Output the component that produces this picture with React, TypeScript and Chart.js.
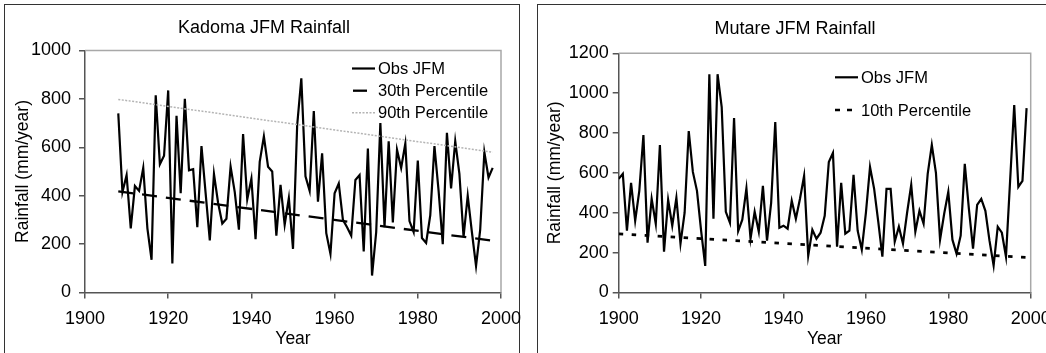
import React, { useEffect, useRef } from "react";
import { Chart, registerables } from "chart.js";

Chart.register(...registerables);

const FONT = '"Liberation Sans", Arial, Helvetica, sans-serif';

// ---------- Kadoma ----------
const kadomaFirstYear = 1908;
const kadomaObs = [
  740, 415, 485, 265, 440, 420, 515, 265, 135, 815,
  530, 565, 835, 120, 730, 410, 800, 505, 510, 270,
  605, 410, 215, 490, 370, 285, 305, 520, 415, 260,
  655, 385, 470, 220, 540, 645, 520, 500, 235, 445,
  280, 390, 180, 690, 885, 480, 420, 750, 375, 575,
  245, 160, 410, 450, 300, 270, 235, 465, 485, 170,
  595, 70, 250, 700, 270, 625, 290, 590, 515, 615,
  295, 250, 545, 225, 205, 320, 605, 420, 200, 660,
  430, 625, 490, 230, 400, 250, 110, 260, 580, 475,
  515,
];
const kadomaTrendYears = [1908, 1998];
const kadoma30th = [418, 214];
const kadoma90th = [798, 580];

// ---------- Mutare ----------
const mutareFirstYear = 1900;
const mutareObs = [
  570, 595, 310, 550, 360, 510, 790, 250, 470, 345,
  740, 205, 465, 335, 475, 245, 400, 810, 605, 510,
  310, 133, 1095, 370, 1095, 930, 405, 350, 875, 308,
  365, 522, 270, 405, 305, 535, 260, 450, 855, 325,
  335, 320, 460, 370, 470, 585, 185, 315, 270, 300,
  385, 655, 700, 230, 550, 295, 310, 590, 310, 215,
  400, 630, 520, 355, 180, 520, 520, 255, 330, 245,
  400, 540, 305, 410, 345, 595, 740, 600, 265, 395,
  505, 265, 195, 285, 645, 420, 220, 440, 470, 410,
  260, 135, 330, 300, 180, 560, 940, 530, 560, 925,
];
const mutareTrendYears = [1900, 1999];
const mutare10th = [294, 176];

const xTicks = [1900, 1920, 1940, 1960, 1980, 2000];

function toPoints(firstYear: number, vals: number[]) {
  return vals.map((v, i) => ({ x: firstYear + i, y: v }));
}
function pairPoints(years: number[], vals: number[]) {
  return vals.map((v, i) => ({ x: years[i], y: v }));
}

const insideLegend = {
  id: "insideLegend",
  afterDraw(chart: any, _args: any, opts: any) {
    const ctx = chart.ctx;
    const ca = chart.chartArea;
    ctx.save();
    // light frame on top/right of plot area
    ctx.strokeStyle = "#a8a8a8";
    ctx.lineWidth = 1.5;
    ctx.setLineDash([]);
    ctx.beginPath();
    ctx.moveTo(ca.left, ca.top);
    ctx.lineTo(ca.right, ca.top);
    ctx.lineTo(ca.right, ca.bottom);
    ctx.stroke();
    // chart title
    if (opts && opts.title) {
      ctx.fillStyle = "#000";
      ctx.font = `18px ${FONT}`;
      ctx.textAlign = "center";
      ctx.textBaseline = "middle";
      ctx.fillText(opts.title.text, opts.title.x, opts.title.y);
    }
    const items = (opts && opts.items) || [];
    for (const it of items) {
      ctx.strokeStyle = it.color;
      ctx.lineWidth = it.width;
      ctx.setLineDash(it.dash || []);
      ctx.beginPath();
      ctx.moveTo(it.x0, it.y);
      ctx.lineTo(it.x1, it.y);
      ctx.stroke();
      ctx.setLineDash([]);
      ctx.fillStyle = "#000";
      ctx.font = `16.5px ${FONT}`;
      ctx.textBaseline = "middle";
      ctx.textAlign = "left";
      ctx.fillText(it.label, it.tx, it.y + 1);
    }
    ctx.restore();
  },
};

type PanelCfg = {
  title: { text: string; x: number; y: number };
  width: number;
  yMax: number;
  yAxisWidth: number;
  padRight: number;
  padTop: number;
  yTitlePad: number;
  yTickPad: number;
  datasets: any[];
  legend: any[];
};

const CANVAS_H = 353;
const X_AXIS_H = 60.5;

function buildConfig(p: PanelCfg): any {
  return {
    type: "line",
    data: { datasets: p.datasets },
    plugins: [insideLegend],
    options: {
      responsive: false,
      animation: false,
      devicePixelRatio: 1,
      layout: { padding: { left: 0, right: p.padRight, top: p.padTop, bottom: 0 } },
      elements: { point: { radius: 0 }, line: { tension: 0 } },
      plugins: {
        legend: { display: false },
        tooltip: { enabled: false },
        title: { display: false },
        insideLegend: { items: p.legend, title: p.title },
      },
      scales: {
        x: {
          type: "linear",
          min: 1900,
          max: 2000,
          afterBuildTicks: (s: any) => {
            s.ticks = xTicks.map((v) => ({ value: v }));
          },
          afterFit: (s: any) => {
            s.height = X_AXIS_H;
            s.paddingLeft = 0;
            s.paddingRight = 0;
          },
          grid: {
            display: true,
            drawOnChartArea: false,
            drawTicks: true,
            tickLength: 6,
            color: "#555",
            lineWidth: 1.5,
          },
          border: { display: true, color: "#555", width: 1.5 },
          ticks: {
            color: "#000",
            font: { family: FONT, size: 18 },
            padding: 10,
            maxRotation: 0,
            autoSkip: false,
            callback: (v: any) => String(v),
          },
          title: {
            display: true,
            text: "Year",
            color: "#000",
            font: { family: FONT, size: 17.5 },
            padding: { top: 0, bottom: 3 },
          },
        },
        y: {
          type: "linear",
          min: 0,
          max: p.yMax,
          afterFit: (s: any) => {
            s.width = p.yAxisWidth;
            s.paddingTop = 0;
            s.paddingBottom = 0;
          },
          grid: {
            display: true,
            drawOnChartArea: false,
            drawTicks: true,
            tickLength: 6,
            color: "#555",
            lineWidth: 1.5,
          },
          border: { display: true, color: "#555", width: 1.5 },
          ticks: {
            stepSize: 200,
            color: "#000",
            font: { family: FONT, size: 18 },
            padding: p.yTickPad,
            callback: (v: any) => String(v),
          },
          title: {
            display: true,
            text: "Rainfall (mm/year)",
            color: "#000",
            font: { family: FONT, size: 17.5 },
            padding: { top: p.yTitlePad, bottom: 0 },
          },
        },
      },
    },
  };
}

const kadomaPanel: PanelCfg = {
  title: { text: "Kadoma JFM Rainfall", x: 264, y: 28.5 },
  width: 521,
  yMax: 1000,
  yAxisWidth: 85,
  padRight: 20,
  padTop: 50.5,
  yTitlePad: 13,
  yTickPad: 8,
  datasets: [
    {
      label: "90th Percentile",
      data: pairPoints(kadomaTrendYears, kadoma90th),
      borderColor: "#b4b4b4",
      borderWidth: 1.5,
      borderDash: [2, 1.5],
    },
    {
      label: "30th Percentile",
      data: pairPoints(kadomaTrendYears, kadoma30th),
      borderColor: "#000",
      borderWidth: 2.3,
      borderDash: [15, 9],
    },
    {
      label: "Obs JFM",
      data: toPoints(kadomaFirstYear, kadomaObs),
      borderColor: "#000",
      borderWidth: 2.2,
    },
  ],
  legend: [
    { label: "Obs JFM", color: "#000", width: 2.2, dash: [], x0: 352, x1: 375, tx: 378, y: 68.5 },
    { label: "30th Percentile", color: "#000", width: 2.3, dash: [], x0: 353, x1: 367, tx: 378, y: 90.7 },
    { label: "90th Percentile", color: "#b4b4b4", width: 1.5, dash: [2, 1.5], x0: 352, x1: 375, tx: 378, y: 112.7 },
  ],
};

const MUTARE_LEFT = 537;
const mutarePanel: PanelCfg = {
  title: { text: "Mutare JFM Rainfall", x: 795 - MUTARE_LEFT, y: 29.5 },
  width: 516,
  yMax: 1200,
  yAxisWidth: 81.7,
  padRight: 22.3,
  padTop: 53.3,
  yTitlePad: 8,
  yTickPad: 4,
  datasets: [
    {
      label: "10th Percentile",
      data: pairPoints(mutareTrendYears, mutare10th),
      borderColor: "#000",
      borderWidth: 2.6,
      borderDash: [4.5, 8.5],
    },
    {
      label: "Obs JFM",
      data: toPoints(mutareFirstYear, mutareObs),
      borderColor: "#000",
      borderWidth: 2.2,
    },
  ],
  legend: [
    { label: "Obs JFM", color: "#000", width: 2.2, dash: [], x0: 835 - MUTARE_LEFT, x1: 858 - MUTARE_LEFT, tx: 861 - MUTARE_LEFT, y: 77.3 },
    { label: "10th Percentile", color: "#000", width: 2.6, dash: [5, 7], x0: 835 - MUTARE_LEFT, x1: 852 - MUTARE_LEFT, tx: 861 - MUTARE_LEFT, y: 110 },
  ],
};

export default function App() {
  const leftRef = useRef<HTMLCanvasElement | null>(null);
  const rightRef = useRef<HTMLCanvasElement | null>(null);

  useEffect(() => {
    const charts: Chart[] = [];
    if (leftRef.current) charts.push(new Chart(leftRef.current, buildConfig(kadomaPanel)));
    if (rightRef.current) charts.push(new Chart(rightRef.current, buildConfig(mutarePanel)));
    return () => charts.forEach((c) => c.destroy());
  }, []);

  return (
    <div
      style={{
        position: "absolute",
        left: 0,
        top: 0,
        width: 1046,
        height: 353,
        overflow: "hidden",
        background: "#fff",
      }}
    >
      <div
        style={{
          position: "absolute",
          left: 4,
          top: 4,
          width: 516,
          height: 380,
          border: "1.5px solid #333",
          boxSizing: "border-box",
        }}
      />
      <div
        style={{
          position: "absolute",
          left: MUTARE_LEFT,
          top: 4,
          width: 540,
          height: 380,
          border: "1.5px solid #333",
          boxSizing: "border-box",
        }}
      />
      <canvas
        ref={leftRef}
        width={kadomaPanel.width}
        height={CANVAS_H}
        style={{ position: "absolute", left: 0, top: 0, width: kadomaPanel.width, height: CANVAS_H }}
      />
      <canvas
        ref={rightRef}
        width={mutarePanel.width}
        height={CANVAS_H}
        style={{ position: "absolute", left: MUTARE_LEFT, top: 0, width: mutarePanel.width, height: CANVAS_H }}
      />
    </div>
  );
}
